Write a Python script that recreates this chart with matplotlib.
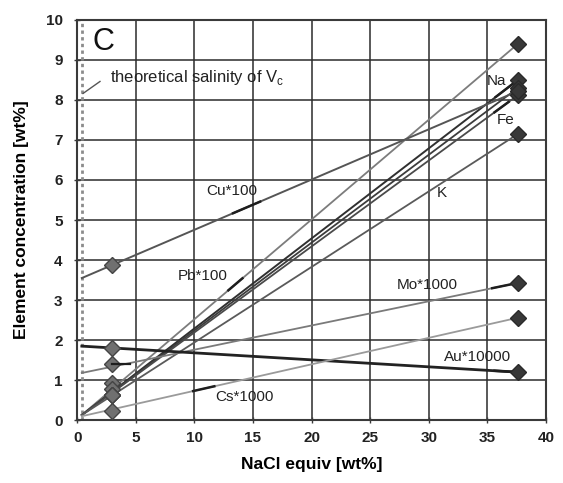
import numpy as np
import matplotlib
matplotlib.use("Agg")
import matplotlib.pyplot as plt

plt.rcParams['font.family'] = ['Liberation Sans', 'DejaVu Sans']

# salinity of theoretical vapour, measured vapour inclusions and brine
x_vc = 0.4
x_vapour = 3.0
x_brine = 37.6

series = ["Pb*100", "Na", "X", "Fe", "K", "Cu*100", "Mo*1000", "Au*10000", "Cs*1000"]
y_start = [0.13, 0.13, 0.13, 0.13, 0.13, 3.55, 1.18, 1.85, 0.10]
y_vapour = [0.94, 0.77, 0.63, 0.63, 0.63, 3.88, 1.41, 1.80, 0.24]
y_brine = [9.40, 8.50, 8.30, 8.12, 7.15, 8.22, 3.43, 1.20, 2.56]

line_colors = ["#7c7c7c", "#303030", "#3c3c3c", "#4a4a4a", "#5a5a5a",
               "#555555", "#7a7a7a", "#222222", "#9a9a9a"]
line_widths = [1.3, 1.4, 1.3, 1.3, 1.3, 1.4, 1.3, 2.0, 1.3]

# label text positions and dark highlight stretches along each line
label_pos = {"Pb*100": (8.6, 3.6), "Na": (34.9, 8.46), "Fe": (35.8, 7.5),
             "K": (30.7, 5.68), "Cu*100": (11.0, 5.72), "Mo*1000": (27.3, 3.38),
             "Au*10000": (31.3, 1.57), "Cs*1000": (11.8, 0.58)}
highlight = {"Pb*100": (12.9, 14.1), "Na": (35.7, 37.4), "Fe": (35.6, 36.8),
             "Cu*100": (13.3, 15.6), "Mo*1000": (35.4, 37.5),
             "Au*10000": (35.6, 37.5), "Cs*1000": (9.9, 11.7)}

fig = plt.figure(figsize=(5.63, 4.83), dpi=100)
ax = fig.add_axes([0.137, 0.130, 0.833, 0.829])

ax.set_xlim(0, 40)
ax.set_ylim(0, 10)
ax.set_xticks(np.arange(0, 41, 5))
ax.set_yticks(np.arange(0, 11, 1))
ax.grid(True, color="#2b2b2b", linewidth=1.1)
ax.set_axisbelow(True)
for s in ax.spines.values():
    s.set_color("#3a3a3a")
    s.set_linewidth(1.5)
ax.tick_params(direction="inout", length=5, width=1, color="#3a3a3a",
               labelsize=11)
ax.tick_params(axis="y", pad=8)
ax.tick_params(axis="x", pad=5)
for lab in ax.get_xticklabels() + ax.get_yticklabels():
    lab.set_fontweight("bold")
    lab.set_color("#222222")

ax.axvline(x_vc, color="#8c8c8c", linestyle=(0, (1.2, 1.2)), linewidth=2.0, zorder=2)

for i, name in enumerate(series):
    xs = [x_vc, x_brine]
    ys = [y_start[i], y_brine[i]]
    ax.plot(xs, ys, color=line_colors[i], linewidth=line_widths[i], zorder=3)
    if name in highlight:
        a, b = highlight[name]
        hx = np.array([a, b])
        ax.plot(hx, np.interp(hx, xs, ys), color="#1e1e1e", linewidth=1.8, zorder=4)

ax.plot([x_vapour] * len(series), y_vapour, linestyle="none", marker="D",
        markersize=8, markerfacecolor="#707070", markeredgecolor="#444444",
        markeredgewidth=1.0, zorder=5)
ax.plot([x_brine] * len(series), y_brine, linestyle="none", marker="D",
        markersize=8, markerfacecolor="#383838", markeredgecolor="#2a2a2a",
        markeredgewidth=1.0, zorder=5)
# short dark tick next to Mo vapour point
ax.plot([x_vapour, x_vapour + 1.5], [y_vapour[6], y_vapour[6]], color="#1e1e1e",
        linewidth=1.6, zorder=6)

for name, (tx, ty) in label_pos.items():
    ax.text(tx, ty, name, fontsize=11, color="#222222", va="center", ha="left", zorder=7)

ax.text(1.3, 9.45, "C", fontsize=22, color="#111111", va="center", ha="left")
ax.text(2.8, 8.55, "theoretical salinity of V$_\\mathregular{c}$", fontsize=12,
        color="#222222", va="center", ha="left")
ax.plot([0.5, 1.95], [8.16, 8.46], color="#555555", linewidth=1.0)

ax.set_xlabel("NaCl equiv [wt%]", fontsize=12.5, fontweight="bold", labelpad=9)
ax.set_ylabel("Element concentration [wt%]", fontsize=12.5, fontweight="bold", labelpad=12)

fig.savefig("out.png", dpi=100)
